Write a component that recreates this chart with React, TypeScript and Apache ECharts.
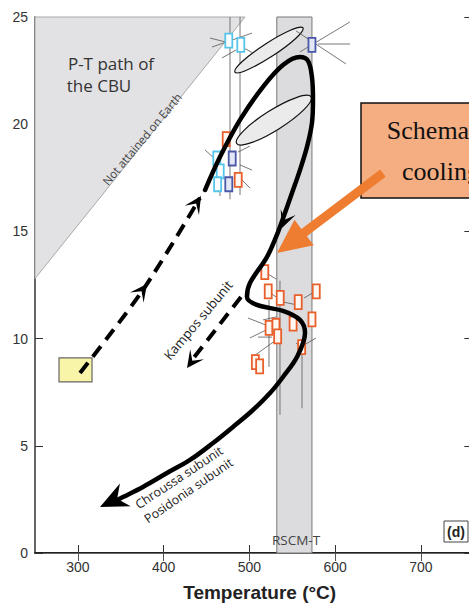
import { useEffect, useRef } from "react";
import * as echarts from "echarts";

// Axis ticks
const tempTicks = [300, 400, 500, 600, 700];

// Field below the lowest possible geotherm, "Not attained on Earth" [T °C, P kbar]
const forbiddenZone = [
  [250, 12.8],
  [250, 25],
  [495, 25],
];

// RSCM peak temperature range (°C)
const rscmRange = [532, 573];

// Thermobarometric estimates [T °C, P kbar]
const cyanEstimates = [
  [476, 23.9],
  [490, 23.7],
  [462, 18.4],
  [466, 17.8],
  [463, 17.2],
];
const blueEstimates = [
  [573, 23.7],
  [480, 18.4],
  [476, 17.2],
];
const orangeEstimates = [
  [473, 19.3],
  [487, 17.4],
  [518, 13.1],
  [522, 12.2],
  [536, 11.9],
  [557, 11.7],
  [578, 12.2],
  [523, 10.5],
  [531, 10.6],
  [551, 10.7],
  [573, 10.9],
  [533, 10.1],
  [561, 9.6],
  [507, 8.9],
  [512, 8.7],
];

// Vertical uncertainty ranges [T, Pmax, T, Pmin]
const pressureRanges = [
  [477.4, 25, 477.4, 16.5],
  [489.1, 25, 489.1, 16.7],
  [522.9, 11.8, 522.9, 8.68],
  [535.7, 12.7, 535.7, 6.45],
  [561.4, 9.8, 561.4, 6.75],
];

// Short uncertainty / correlation segments [T1, P1, T2, P2]
const uncertaintySegments = [
  [456.4, 23.6, 503.1, 24.25],
  [468.1, 23.09, 484.4, 23.46],
  [493.7, 23.55, 504.2, 23.32],
  [454.1, 24.02, 472.7, 23.83],
  [554.4, 24.35, 612.7, 22.81],
  [559.0, 23.37, 617.3, 24.77],
  [580.0, 23.74, 617.3, 23.74],
  [448.3, 18.8, 461.1, 18.33],
  [486.7, 18.7, 500.7, 18.98],
  [489.1, 18.1, 503.1, 17.86],
  [491.4, 17.4, 500.7, 17.02],
  [465.7, 16.93, 465.7, 16.65],
  [518.2, 13.1, 531.0, 12.78],
  [524.1, 12.13, 536.9, 11.8],
  [539.2, 11.71, 555.5, 11.57],
  [563.7, 11.89, 575.4, 12.17],
  [515.9, 10.87, 531.0, 11.01],
  [498.4, 10.96, 519.4, 10.63],
  [500.7, 10.03, 519.4, 10.4],
  [510.1, 10.07, 526.4, 10.07],
  [505.4, 9.19, 531.0, 9.93],
  [566.0, 9.75, 577.7, 10.03],
  [554.4, 9.79, 566.0, 9.47],
];

// Pseudosection uncertainty ellipses: major-axis ends [T1, P1, T2, P2]
const ellipses = [
  [483.2, 22.43, 562.5, 24.49],
  [485.2, 19.1, 571.9, 21.28],
];
const ellipseAspect = [0.17, 0.23];

// Schematic P-T path of the CBU (peak, decompression and cooling)
const cbuPath = [
  [448.3, 16.93],
  [465.7, 18.47],
  [489.1, 20.2],
  [515.9, 21.74],
  [539.2, 22.76],
  [559.0, 23.13],
  [568.4, 22.95],
  [573.0, 22.2],
  [574.2, 21.13],
  [573.0, 20.06],
  [567.2, 18.94],
  [559.0, 17.86],
  [549.7, 16.79],
  [541.5, 15.86],
  [533.4, 14.97],
  [520.6, 13.81],
  [500.7, 12.59],
  [497.2, 11.94],
  [508.9, 11.57],
  [539.2, 11.29],
  [559.0, 10.87],
  [564.9, 10.26],
  [555.5, 9.14],
  [539.2, 8.21],
  [524.1, 7.46],
  [504.2, 6.67],
  [480.9, 5.88],
  [457.6, 5.13],
  [430.8, 4.34],
  [403.9, 3.73],
  [375.9, 3.08],
  [352.6, 2.61],
  [343.3, 2.43],
];

// Prograde path from the starting conditions (dashed)
const progradePath = [
  [302.5, 8.4],
  [375.9, 12.27],
  [442.4, 16.56],
];

// Kampos subunit exhumation (dashed)
const kamposPath = [
  [490.2, 11.94],
  [433.1, 9.0],
];

// Starting conditions box [Tmin, Pmin, Tmax, Pmax]
const startBox = [[278, 7.98, 316.5, 9.1]];

// Arrowheads [tipT, tipP, backT, backP]
const dashedArrowHeads = [
  [380.6, 12.55, 370.1, 11.99],
  [443.6, 16.65, 435.4, 16.14],
  [427.3, 8.63, 436.6, 9.14],
];
const pathArrowHeads = [[538.0, 15.16, 546.2, 16.0]];
const endArrowHeads = [[325.8, 2.15, 352.6, 2.66]];

// Cooling callout arrow [tailT, tailP, tipT, tipP]
const calloutArrow = [[655.8, 17.72, 532.2, 13.99]];

const AXIS_FONT = "'Liberation Sans', Arial, sans-serif";
const NOTE_FONT = "'Open Sans', 'Noto Sans', sans-serif";

function arrowHead(len: number, half: number, inner: number, color: string) {
  return (_params: any, api: any) => {
    const tip = api.coord([api.value(0), api.value(1)]);
    const back = api.coord([api.value(2), api.value(3)]);
    let dx = tip[0] - back[0];
    let dy = tip[1] - back[1];
    const d = Math.hypot(dx, dy) || 1;
    dx /= d;
    dy /= d;
    const nx = -dy;
    const ny = dx;
    const bx = tip[0] - dx * len;
    const by = tip[1] - dy * len;
    return {
      type: "polygon",
      shape: {
        points: [
          tip,
          [bx + nx * half, by + ny * half],
          [tip[0] - dx * inner, tip[1] - dy * inner],
          [bx - nx * half, by - ny * half],
        ],
      },
      style: { fill: color },
    };
  };
}

function boxSeries(data: number[][], stroke: string, fill: string) {
  return {
    type: "custom",
    data,
    z: 20,
    silent: true,
    renderItem: (_p: any, api: any) => {
      const [x, y] = api.coord([api.value(0), api.value(1)]);
      return {
        type: "rect",
        shape: { x: x - 3.5, y: y - 7, width: 7, height: 14 },
        style: { fill, stroke, lineWidth: 1.8 },
      };
    },
  };
}

function segmentSeries(data: number[][], color: string, width: number, z: number) {
  return {
    type: "custom",
    data,
    z,
    silent: true,
    encode: { x: [0, 2], y: [1, 3] },
    renderItem: (_p: any, api: any) => {
      const a = api.coord([api.value(0), api.value(1)]);
      const b = api.coord([api.value(2), api.value(3)]);
      return {
        type: "line",
        shape: { x1: a[0], y1: a[1], x2: b[0], y2: b[1] },
        style: { stroke: color, lineWidth: width },
      };
    },
  };
}

function textEl(
  text: string,
  x: number,
  y: number,
  size: number,
  opts: { rotationDeg?: number; color?: string; family?: string; weight?: string } = {}
) {
  return {
    type: "text",
    x,
    y,
    z: 70,
    rotation: ((opts.rotationDeg || 0) * Math.PI) / 180,
    style: {
      text,
      fontSize: size,
      fontFamily: opts.family || NOTE_FONT,
      fontWeight: opts.weight || "normal",
      fill: opts.color || "#333",
      align: "center",
      verticalAlign: "middle",
      textAlign: "center",
      textVerticalAlign: "middle",
    },
  };
}

const option: any = {
  animation: false,
  backgroundColor: "#ffffff",
  grid: {
    left: 35,
    top: 17,
    width: 437.3,
    height: 536,
    containLabel: false,
    outerBoundsMode: "none",
  },
  xAxis: [
    {
      type: "value",
      min: 250,
      max: 760,
      position: "bottom",
      splitLine: { show: false },
      axisLine: { lineStyle: { color: "#222", width: 1.8 } },
      axisTick: { inside: true, length: 8, customValues: tempTicks, lineStyle: { color: "#333", width: 1 } },
      axisLabel: {
        customValues: tempTicks,
        fontSize: 14,
        color: "#333",
        margin: 7,
        fontFamily: AXIS_FONT,
      },
      name: "Temperature (°C)",
      nameLocation: "middle",
      nameGap: 30,
      nameTextStyle: {
        fontSize: 19,
        fontWeight: "bold",
        color: "#222",
        fontFamily: AXIS_FONT,
        padding: [0, 0, 0, 12],
      },
    },
    {
      type: "value",
      min: 250,
      max: 760,
      position: "top",
      splitLine: { show: false },
      axisLine: { lineStyle: { color: "#666", width: 1 } },
      axisTick: { inside: true, length: 8, customValues: tempTicks, lineStyle: { color: "#555", width: 1 } },
      axisLabel: { show: false },
    },
  ],
  yAxis: [
    {
      type: "value",
      min: 0,
      max: 25,
      interval: 5,
      position: "left",
      splitLine: { show: false },
      axisLine: { show: true, lineStyle: { color: "#333", width: 1.5 } },
      axisTick: { show: true, inside: true, length: 8, lineStyle: { color: "#333", width: 1 } },
      axisLabel: { fontSize: 14, color: "#333", margin: 7, fontFamily: AXIS_FONT },
    },
    {
      type: "value",
      min: 0,
      max: 25,
      interval: 5,
      position: "right",
      splitLine: { show: false },
      axisLine: { show: true, lineStyle: { color: "#333", width: 1.5 } },
      axisTick: { show: true, inside: true, length: 8, lineStyle: { color: "#333", width: 1 } },
      axisLabel: { show: false },
    },
  ],
  series: [
    // not attained on Earth
    {
      type: "custom",
      data: forbiddenZone,
      z: 1,
      silent: true,
      renderItem: (params: any, api: any) => {
        if (params.dataIndex !== 0) return null;
        return {
          type: "polygon",
          shape: { points: forbiddenZone.map((p) => api.coord(p)) },
          style: { fill: "#e2e2e4", stroke: "#a9a9a9", lineWidth: 1 },
        };
      },
    },
    // RSCM-T band
    {
      type: "custom",
      data: [[rscmRange[0], 0, rscmRange[1], 25]],
      encode: { x: [0, 2], y: [1, 3] },
      z: 2,
      silent: true,
      renderItem: (_p: any, api: any) => {
        const a = api.coord([api.value(0), api.value(3)]);
        const b = api.coord([api.value(2), api.value(1)]);
        return {
          type: "rect",
          shape: { x: a[0], y: a[1], width: b[0] - a[0], height: b[1] - a[1] },
          style: { fill: "#dcdcde", stroke: "#777", lineWidth: 1 },
        };
      },
    },
    segmentSeries(pressureRanges, "#666", 0.9, 5),
    // uncertainty ellipses
    {
      type: "custom",
      data: ellipses,
      encode: { x: [0, 2], y: [1, 3] },
      z: 6,
      silent: true,
      renderItem: (params: any, api: any) => {
        const a = api.coord([api.value(0), api.value(1)]);
        const b = api.coord([api.value(2), api.value(3)]);
        const rx = Math.hypot(b[0] - a[0], b[1] - a[1]) / 2;
        const ry = rx * ellipseAspect[params.dataIndex];
        const ang = Math.atan2(b[1] - a[1], b[0] - a[0]);
        return {
          type: "ellipse",
          x: (a[0] + b[0]) / 2,
          y: (a[1] + b[1]) / 2,
          rotation: -ang,
          shape: { cx: 0, cy: 0, rx, ry },
          style: { fill: "#ebebeb", stroke: "#111", lineWidth: 1.2 },
        };
      },
    },
    segmentSeries(uncertaintySegments, "#555", 0.8, 7),
    // starting conditions box
    {
      type: "custom",
      data: startBox,
      encode: { x: [0, 2], y: [1, 3] },
      z: 8,
      silent: true,
      renderItem: (_p: any, api: any) => {
        const a = api.coord([api.value(0), api.value(3)]);
        const b = api.coord([api.value(2), api.value(1)]);
        return {
          type: "rect",
          shape: { x: a[0], y: a[1], width: b[0] - a[0], height: b[1] - a[1] },
          style: { fill: "#f8f5a8", stroke: "#666", lineWidth: 1.2 },
        };
      },
    },
    boxSeries(cyanEstimates, "#55c5ea", "#ffffff"),
    boxSeries(blueEstimates, "#4a58a8", "#e3e6f4"),
    boxSeries(orangeEstimates, "#e85f2b", "#fff8f2"),
    {
      type: "line",
      data: progradePath,
      smooth: 0.3,
      showSymbol: false,
      z: 30,
      silent: true,
      lineStyle: { color: "#000", width: 4, type: [13, 8], cap: "butt" },
    },
    {
      type: "line",
      data: kamposPath,
      showSymbol: false,
      z: 30,
      silent: true,
      lineStyle: { color: "#000", width: 4, type: [13, 8], cap: "butt" },
    },
    {
      type: "line",
      data: cbuPath,
      smooth: 0.35,
      showSymbol: false,
      z: 31,
      silent: true,
      lineStyle: { color: "#000", width: 4.5, cap: "round", join: "round" },
    },
    {
      type: "custom",
      data: dashedArrowHeads,
      encode: { x: [0, 2], y: [1, 3] },
      z: 32,
      silent: true,
      renderItem: arrowHead(17, 8.5, 9, "#000"),
    },
    {
      type: "custom",
      data: pathArrowHeads,
      encode: { x: [0, 2], y: [1, 3] },
      z: 32,
      silent: true,
      renderItem: arrowHead(17, 8, 9, "#000"),
    },
    {
      type: "custom",
      data: endArrowHeads,
      encode: { x: [0, 2], y: [1, 3] },
      z: 32,
      silent: true,
      renderItem: arrowHead(28, 12.5, 19, "#000"),
    },
    // cooling callout arrow
    {
      type: "custom",
      data: calloutArrow,
      encode: { x: [0, 2], y: [1, 3] },
      z: 60,
      silent: true,
      renderItem: (_p: any, api: any) => {
        const tail = api.coord([api.value(0), api.value(1)]);
        const tip = api.coord([api.value(2), api.value(3)]);
        let dx = tip[0] - tail[0];
        let dy = tip[1] - tail[1];
        const d = Math.hypot(dx, dy) || 1;
        dx /= d;
        dy /= d;
        const nx = -dy;
        const ny = dx;
        const shaft = 4.5;
        const headLen = 34;
        const headHalf = 16;
        const nk = [tip[0] - dx * headLen, tip[1] - dy * headLen];
        return {
          type: "polygon",
          shape: {
            points: [
              [tail[0] + nx * shaft, tail[1] + ny * shaft],
              [nk[0] + nx * shaft, nk[1] + ny * shaft],
              [nk[0] + nx * headHalf, nk[1] + ny * headHalf],
              tip,
              [nk[0] - nx * headHalf, nk[1] - ny * headHalf],
              [nk[0] - nx * shaft, nk[1] - ny * shaft],
              [tail[0] - nx * shaft, tail[1] - ny * shaft],
            ],
          },
          style: { fill: "#ee7d31" },
        };
      },
    },
  ],
  graphic: [
    textEl("P-T path of", 111, 63, 17),
    textEl("the CBU", 99, 85, 17),
    textEl("Not attained on Earth", 142, 139, 11.5, { rotationDeg: 50, color: "#444" }),
    textEl("Kampos subunit", 198, 320, 13, { rotationDeg: 50, color: "#222" }),
    textEl("Chroussa subunit", 179, 477.5, 12.5, { rotationDeg: 33.5, color: "#222" }),
    textEl("Posidonia subunit", 188.5, 490.5, 12.5, { rotationDeg: 34.5, color: "#222" }),
    textEl("RSCM-T", 296, 540, 13.5, { color: "#444" }),
    {
      type: "rect",
      z: 65,
      shape: { x: 444, y: 521, width: 24, height: 21 },
      style: { fill: "#fff", stroke: "#444", lineWidth: 1 },
    },
    textEl("(d)", 456, 531.5, 14, { weight: "bold", family: AXIS_FONT, color: "#222" }),
    {
      type: "rect",
      z: 50,
      shape: { x: 361, y: 103, width: 160, height: 95 },
      style: { fill: "#f4ae82", stroke: "#111", lineWidth: 1.5 },
    },
    textEl("Schematic", 441, 130, 26, { family: "'Liberation Serif', 'Times New Roman', serif", color: "#111" }),
    textEl("cooling", 441, 171, 26, { family: "'Liberation Serif', 'Times New Roman', serif", color: "#111" }),
  ],
};

export default function App() {
  const ref = useRef<HTMLDivElement>(null);
  useEffect(() => {
    if (!ref.current) return;
    const chart = echarts.init(ref.current, null, { renderer: "svg" });
    chart.setOption(option);
    return () => chart.dispose();
  }, []);
  return (
    <div
      style={{
        position: "fixed",
        left: 0,
        top: 0,
        width: 469,
        height: 603,
        overflow: "hidden",
        background: "#fff",
      }}
    >
      <div ref={ref} style={{ width: 520, height: 603 }} />
    </div>
  );
}
